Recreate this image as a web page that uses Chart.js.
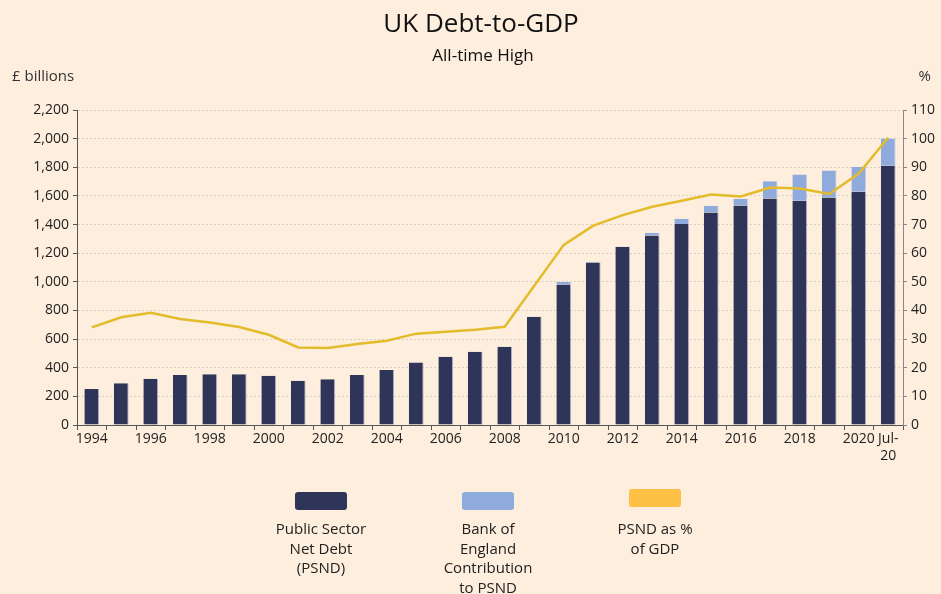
<!DOCTYPE html>
<html>
<head>
<meta charset="utf-8">
<title>UK Debt-to-GDP</title>
<script src="https://cdn.jsdelivr.net/npm/chart.js@4/dist/chart.umd.min.js"></script>
<style>
  html, body { margin: 0; padding: 0; background: #fdeedd; }
  #wrap { width: 941px; height: 594px; position: relative; }
</style>
</head>
<body>
<div id="wrap"><canvas id="debtChart"></canvas></div>
<script>
// categories
const years = ['1994','1995','1996','1997','1998','1999','2000','2001','2002','2003','2004','2005','2006','2007',
  '2008','2009','2010','2011','2012','2013','2014','2015','2016','2017','2018','2019','2020','Jul-20'];

// £ billions
const psnd = [251, 291, 323, 349, 354, 354, 344, 309, 319, 349, 384, 437, 477, 512,
  547, 756, 981, 1135, 1245, 1324, 1403, 1484, 1533, 1582, 1566, 1589, 1629, 1810];
const boeContribution = [0, 0, 0, 0, 0, 0, 0, 0, 0, 0, 0, 0, 0, 0,
  0, 0, 17, 5, 0, 19, 37, 47, 47, 121, 183, 188, 174, 191];

// % of GDP
const psndPctGdp = [34.1, 37.6, 39.2, 37.0, 35.8, 34.2, 31.5, 27.1, 26.9, 28.3, 29.4, 31.9, 32.6, 33.3,
  34.3, 48.6, 62.9, 69.6, 73.3, 76.2, 78.3, 80.5, 79.8, 82.9, 82.6, 80.7, 87.8, 100.4];

// legend text, one entry per line
const legendLines = [
  ['Public Sector', 'Net Debt', '(PSND)'],
  ['Bank of', 'England', 'Contribution', 'to PSND'],
  ['PSND as %', 'of GDP']
];

const FONT = "'Open Sans', 'DejaVu Sans', sans-serif";
const darkBlue = '#2e3558';
const lightBlue = '#8faadc';
const gold = '#e4bb2b';
const legendGold = '#ffc145';

// titles, unit labels and legend drawn on the canvas
const extras = {
  id: 'extras',
  afterDraw(chart) {
    const ctx = chart.ctx;
    ctx.save();
    ctx.fillStyle = '#111';
    ctx.textAlign = 'center';
    ctx.textBaseline = 'middle';
    ctx.font = '26px ' + FONT;
    ctx.fillText('UK Debt-to-GDP', 481, 25);
    ctx.font = '17px ' + FONT;
    ctx.fillText('All-time High', 483, 56);

    ctx.fillStyle = '#333';
    ctx.font = '15px ' + FONT;
    ctx.textAlign = 'left';
    ctx.fillText('£ billions', 12, 77);
    ctx.textAlign = 'right';
    ctx.fillText('%', 931, 77);

    const centers = [321, 488, 655];
    const tops = [492, 492, 489];
    const boxColors = [darkBlue, lightBlue, legendGold];
    ctx.textAlign = 'center';
    ctx.font = '15px ' + FONT;
    legendLines.forEach((lines, i) => {
      ctx.fillStyle = boxColors[i];
      ctx.beginPath();
      ctx.roundRect(centers[i] - 26, tops[i], 52, 18, 3);
      ctx.fill();
      ctx.fillStyle = '#222';
      lines.forEach((t, j) => ctx.fillText(t, centers[i], 530 + j * 19.5));
    });
    ctx.restore();
  }
};

const bg = {
  id: 'bg',
  beforeDraw(chart) {
    const ctx = chart.ctx;
    ctx.save();
    ctx.fillStyle = '#fdeedd';
    ctx.fillRect(0, 0, chart.width, chart.height);
    ctx.restore();
  }
};

new Chart(document.getElementById('debtChart'), {
  type: 'bar',
  data: {
    labels: years,
    datasets: [
      {
        label: 'PSND as % of GDP',
        type: 'line',
        data: psndPctGdp,
        yAxisID: 'y1',
        borderColor: gold,
        borderWidth: 2.5,
        pointRadius: 0,
        tension: 0,
        order: 0
      },
      {
        label: 'Public Sector Net Debt (PSND)',
        data: psnd,
        backgroundColor: darkBlue,
        borderColor: 'rgba(160,165,190,0.8)',
        borderWidth: { top: 0, left: 0, bottom: 0, right: 1 },
        stack: 'debt',
        order: 1
      },
      {
        label: 'Bank of England Contribution to PSND',
        data: boeContribution,
        backgroundColor: lightBlue,
        borderColor: 'rgba(190,200,225,0.8)',
        borderWidth: { top: 0, left: 0, bottom: 0, right: 1 },
        stack: 'debt',
        order: 1
      }
    ]
  },
  options: {
    responsive: true,
    maintainAspectRatio: false,
    animation: false,
    layout: { padding: { top: 110, left: 0, right: 0, bottom: 0 } },
    datasets: { bar: { categoryPercentage: 1, barPercentage: 0.5 } },
    plugins: {
      legend: { display: false },
      title: { display: false },
      tooltip: { enabled: false }
    },
    scales: {
      x: {
        stacked: true,
        grid: { offset: true, drawOnChartArea: false, color: '#555', tickLength: 5 },
        border: { color: '#555' },
        ticks: {
          autoSkip: false,
          maxRotation: 0,
          padding: 1,
          color: '#222',
          font: { family: FONT, size: 14 },
          callback: function(value, index) {
            const lab = this.getLabelForValue(value);
            if (lab === 'Jul-20') return ['Jul-', '20'];
            return index % 2 === 0 ? lab : '';
          }
        },
        afterFit(scale) { scale.height = 169; }
      },
      y: {
        stacked: true,
        position: 'left',
        min: 0,
        max: 2200,
        ticks: {
          stepSize: 200,
          color: '#222',
          padding: 4,
          font: { family: FONT, size: 14 },
          callback: v => v.toLocaleString('en-GB')
        },
        grid: { color: '#d9d0c6', tickColor: '#555', tickLength: 4 },
        border: { color: '#555', dash: [2, 2] },
        afterFit(scale) { scale.width = 77; }
      },
      y1: {
        position: 'right',
        min: 0,
        max: 110,
        ticks: {
          stepSize: 10,
          color: '#222',
          padding: 4,
          font: { family: FONT, size: 14 }
        },
        grid: { drawOnChartArea: false, color: '#888', tickLength: 4 },
        border: { color: '#888' },
        afterFit(scale) { scale.width = 38; }
      }
    }
  },
  plugins: [bg, extras]
});
</script>
</body>
</html>
